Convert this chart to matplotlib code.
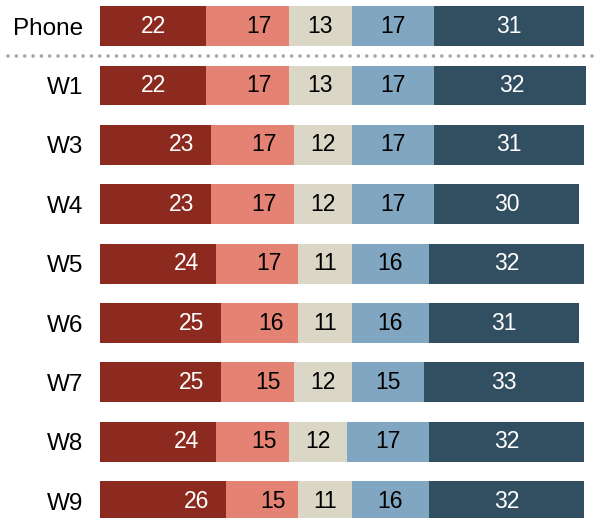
import matplotlib
matplotlib.use("Agg")
import matplotlib.pyplot as plt
import matplotlib.transforms as mtransforms
from matplotlib.lines import Line2D
import numpy as np

rows = ["Phone", "W1", "W3", "W4", "W5", "W6", "W7", "W8", "W9"]
seg1 = [22, 22, 23, 23, 24, 25, 25, 24, 26]
seg2 = [17, 17, 17, 17, 17, 16, 15, 15, 15]
seg3 = [13, 13, 12, 12, 11, 11, 12, 12, 11]
seg4 = [17, 17, 17, 17, 16, 16, 15, 17, 16]
seg5 = [31, 32, 31, 30, 32, 31, 33, 32, 32]

series = [seg1, seg2, seg3, seg4, seg5]
colors = ["#8C2A1F", "#E48273", "#DAD7C7", "#81A6C2", "#324E61"]
text_colors = ["white", "black", "black", "black", "white"]

W, H = 594, 518
fig = plt.figure(figsize=(W / 100, H / 100), dpi=100)
ax = fig.add_axes([100 / W, 0, 486 / W, 1])

font = "Liberation Sans"
y = np.arange(len(rows))
left = np.zeros(len(rows))
bh = 0.67
for k, (vals, c, tc) in enumerate(zip(series, colors, text_colors)):
    vals = np.array(vals, dtype=float)
    ax.barh(y, vals, left=left, height=bh, color=c, linewidth=0)
    for i, v in enumerate(vals):
        if k == 0:
            if i < 2:
                x = left[i] + v / 2
            else:
                x = left[i] + v - 6.1
        elif k == 1:
            x = left[i] + v / 2 + 2.3
        else:
            x = left[i] + v / 2
        ax.text(x, y[i], f"{int(v)}", ha="center", va="center",
                color=tc, fontsize=16.5, family=font)
    left = left + vals

ax.set_xlim(0, 100.4)
ax.set_ylim(8.283, -0.438)
ax.set_yticks(y)
ax.set_yticklabels(rows, fontsize=17.5, family=font)
ax.tick_params(axis="y", length=0, pad=12)
ax.set_xticks([])
for s in ax.spines.values():
    s.set_visible(False)

trans = mtransforms.blended_transform_factory(fig.transFigure, ax.transData)
ln = Line2D([8 / W, 1.0], [0.5, 0.5], transform=trans, color="#A6A6A6",
            linewidth=2.6, linestyle=(0, (0.01, 2.3)), dash_capstyle="round")
fig.add_artist(ln)

fig.savefig("out.png", dpi=100)
